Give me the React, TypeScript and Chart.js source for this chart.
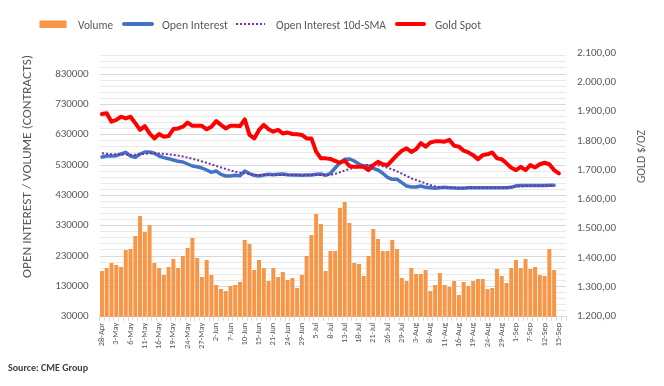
import { useEffect, useRef } from 'react';
import { Chart, registerables } from 'chart.js';

Chart.register(...registerables);

// ---------- data ----------
const DATES = [
  '28-Apr', '29-Apr', '2-May', '3-May', '4-May', '5-May', '6-May', '9-May', '10-May', '11-May',
  '12-May', '13-May', '16-May', '17-May', '18-May', '19-May', '20-May', '23-May', '24-May', '25-May',
  '26-May', '27-May', '31-May', '1-Jun', '2-Jun', '3-Jun', '6-Jun', '7-Jun', '8-Jun', '9-Jun',
  '10-Jun', '13-Jun', '14-Jun', '15-Jun', '16-Jun', '17-Jun', '21-Jun', '22-Jun', '23-Jun', '24-Jun',
  '27-Jun', '28-Jun', '29-Jun', '30-Jun', '1-Jul', '5-Jul', '6-Jul', '7-Jul', '8-Jul', '11-Jul',
  '12-Jul', '13-Jul', '14-Jul', '15-Jul', '18-Jul', '19-Jul', '20-Jul', '21-Jul', '22-Jul', '25-Jul',
  '26-Jul', '27-Jul', '28-Jul', '29-Jul', '1-Aug', '2-Aug', '3-Aug', '4-Aug', '5-Aug', '8-Aug',
  '9-Aug', '10-Aug', '11-Aug', '12-Aug', '15-Aug', '16-Aug', '17-Aug', '18-Aug', '19-Aug', '22-Aug',
  '23-Aug', '24-Aug', '25-Aug', '26-Aug', '29-Aug', '30-Aug', '31-Aug', '1-Sep', '2-Sep', '6-Sep',
  '7-Sep', '8-Sep', '9-Sep', '12-Sep', '13-Sep', '14-Sep', '15-Sep', '16-Sep',
];

const VOLUME = [
  180600, 190600, 207000, 200400, 193900, 250000, 253200, 296000, 362000, 309300,
  332300, 207000, 190600, 167500, 193900, 220300, 190600, 230200, 256500, 289500,
  223600, 160900, 217000, 167500, 134500, 121300, 114700, 131200, 134500, 144400,
  282900, 269700, 184000, 217000, 190600, 147700, 190600, 160900, 177400, 151000,
  157600, 124600, 167500, 230200, 299300, 368600, 335600, 180600, 246600, 246600,
  388400, 408200, 338900, 207000, 203700, 164200, 230200, 319200, 286200, 246600,
  246600, 282900, 253200, 157600, 147700, 190600, 170800, 170800, 184000, 114700,
  134500, 174100, 134500, 127900, 147700, 101500, 144400, 131200, 147700, 154300,
  154300, 121300, 124600, 187300, 164200, 141100, 190600, 217000, 190600, 220300,
  187300, 193900, 167500, 164200, 253200, 184000,
];

const OPEN_INTEREST = [
  556500, 559800, 559800, 560800, 566400, 572000, 559800, 555500, 566400, 573000,
  573000, 568700, 559800, 554300, 551000, 546600, 542200, 540000, 533400, 526800,
  524500, 520200, 513600, 505900, 510300, 499400, 493800, 493800, 496100, 494900,
  510300, 502000, 496100, 493800, 497200, 499400, 498300, 499400, 500500, 498300,
  497200, 497200, 496100, 497200, 497200, 499400, 500500, 496100, 502800, 520200,
  537700, 548900, 550000, 543300, 533400, 526800, 526800, 519100, 513600, 502800,
  489600, 483000, 483000, 471800, 460900, 457600, 457600, 460900, 456500, 455400,
  453200, 455400, 456500, 455400, 454300, 453200, 453200, 455400, 455400, 455400,
  455400, 455400, 455400, 455400, 455400, 455400, 456500, 461400, 462500, 462500,
  462500, 462500, 462500, 462500, 463600, 463600,
];

const OI_SMA_10D = [
  568700, 567000, 565400, 565400, 565400, 564500, 563200, 564000, 565400, 567000,
  568700, 568700, 568000, 567000, 565400, 563000, 561000, 558000, 554400, 550500,
  546600, 542000, 537700, 532000, 526800, 522000, 516900, 512500, 508100, 505000,
  502800, 500000, 497200, 497000, 497000, 497000, 497200, 497200, 497500, 497500,
  497500, 497500, 497500, 497500, 497500, 497200, 497200, 497500, 497500, 501000,
  506000, 512000, 517000, 521500, 525600, 529000, 530000, 530000, 529000, 525600,
  521200, 515700, 509200, 501500, 493800, 486100, 480600, 475100, 469600, 464100,
  459700, 456500, 455400, 455400, 455000, 455000, 455000, 455000, 455000, 455000,
  455000, 455000, 455000, 455000, 455000, 456000, 457600, 459000, 460000, 460500,
  460900, 460900, 461400, 461400, 461400, 461400,
];

const GOLD_SPOT = [
  1891, 1894, 1865, 1871, 1882, 1876, 1882, 1860, 1837, 1850,
  1825, 1808, 1823, 1814, 1816, 1840, 1842, 1848, 1862, 1851,
  1851, 1851, 1839, 1848, 1867, 1854, 1842, 1851, 1851, 1850,
  1873, 1820, 1808, 1837, 1854, 1839, 1831, 1837, 1825, 1828,
  1823, 1822, 1820, 1808, 1808, 1763, 1740, 1740, 1738, 1731,
  1725, 1732, 1714, 1711, 1711, 1711, 1700, 1717, 1728, 1720,
  1717, 1734, 1751, 1766, 1774, 1762, 1771, 1792, 1780, 1794,
  1798, 1798, 1797, 1803, 1783, 1780, 1766, 1760, 1751, 1737,
  1751, 1754, 1760, 1740, 1737, 1723, 1708, 1700, 1711, 1700,
  1717, 1709, 1720, 1725, 1720, 1700, 1689,
];

const LEFT_MIN = 30000;
const LEFT_MAX = 900000;
const LEFT_MAJOR = 100000;
const LEFT_MINOR = 20000;
const RIGHT_MIN = 1200;
const RIGHT_MAX = 2100;
const RIGHT_STEP = 100;
const LABEL_EVERY = 3;
const LAST_LABELLED = 96;

const LEGEND_ITEMS = ['Volume', 'Open Interest', 'Open Interest 10d-SMA', 'Gold Spot'];
const LEFT_TITLE = 'OPEN INTEREST / VOLUME (CONTRACTS)';
const RIGHT_TITLE = 'GOLD $/OZ';
const SOURCE = 'Source: CME Group';

// ---------- styles ----------
const FONT = 'Carlito, Lato, sans-serif';
const TEXT = '#595959';
const ORANGE = '#F79646';
const BLUE = '#4472C4';
const PURPLE = '#7030A0';
const RED = '#FF0000';

const pad = (arr: number[]) => DATES.map((_, i) => (i < arr.length ? arr[i] : null));

function fmtDe(v: number) {
  const [i, d] = v.toFixed(2).split('.');
  return i.replace(/\B(?=(\d{3})+(?!\d))/g, '.') + ',' + d;
}

function fitText(ctx: CanvasRenderingContext2D, text: string, x: number, y: number, w: number) {
  const m = ctx.measureText(text).width;
  ctx.save();
  ctx.translate(x, y);
  ctx.scale(w / m, 1);
  ctx.fillText(text, 0, 0);
  ctx.restore();
}

const decorations = {
  id: 'decorations',
  afterDraw(chart: any) {
    const ctx: CanvasRenderingContext2D = chart.ctx;
    ctx.save();
    // legend
    const ly = 24;
    ctx.fillStyle = ORANGE;
    ctx.fillRect(39.5, 20.5, 27, 7.5);
    ctx.lineCap = 'round';
    ctx.strokeStyle = BLUE;
    ctx.lineWidth = 4;
    ctx.beginPath(); ctx.moveTo(124, ly); ctx.lineTo(152, ly); ctx.stroke();
    ctx.strokeStyle = PURPLE;
    ctx.lineWidth = 2;
    ctx.lineCap = 'butt';
    ctx.setLineDash([2, 2]);
    ctx.beginPath(); ctx.moveTo(236, ly); ctx.lineTo(265, ly); ctx.stroke();
    ctx.setLineDash([]);
    ctx.lineCap = 'round';
    ctx.strokeStyle = RED;
    ctx.lineWidth = 4;
    ctx.beginPath(); ctx.moveTo(397, ly); ctx.lineTo(424, ly); ctx.stroke();

    ctx.fillStyle = TEXT;
    ctx.font = `13px ${FONT}`;
    ctx.textBaseline = 'alphabetic';
    ctx.textAlign = 'left';
    const lx = [78, 162, 276, 435];
    const lw = [35, 66, 110, 46];
    LEGEND_ITEMS.forEach((t, i) => fitText(ctx, t, lx[i], 28.5, lw[i]));

    // axis titles
    ctx.font = `13px ${FONT}`;
    ctx.textAlign = 'center';
    ctx.textBaseline = 'middle';
    ctx.save();
    ctx.translate(28, 166.5);
    ctx.rotate(-Math.PI / 2);
    fitText(ctx, LEFT_TITLE, 0, 0, 223);
    ctx.restore();
    ctx.save();
    ctx.translate(641.5, 156.5);
    ctx.rotate(-Math.PI / 2);
    fitText(ctx, RIGHT_TITLE, 0, 0, 53);
    ctx.restore();

    // source
    ctx.textAlign = 'left';
    ctx.textBaseline = 'alphabetic';
    ctx.fillStyle = '#404040';
    ctx.font = `bold 10px ${FONT}`;
    fitText(ctx, SOURCE, 8, 371, 80);
    ctx.restore();
  },
};

export default function App() {
  const ref = useRef<HTMLCanvasElement>(null);

  useEffect(() => {
    document.body.style.margin = '0';
    const canvas = ref.current!;
    const chart = new Chart(canvas, {
      type: 'bar',
      data: {
        labels: DATES,
        datasets: [
          {
            type: 'line',
            label: 'Gold Spot',
            data: pad(GOLD_SPOT),
            yAxisID: 'y1',
            borderColor: RED,
            borderWidth: 4,
            pointRadius: 0,
            tension: 0,
            borderJoinStyle: 'round',
            borderCapStyle: 'round',
            order: 0,
          } as any,
          {
            type: 'line',
            label: 'Open Interest 10d-SMA',
            data: pad(OI_SMA_10D),
            yAxisID: 'y',
            borderColor: PURPLE,
            borderWidth: 2,
            borderDash: [2, 2],
            pointRadius: 0,
            tension: 0,
            order: 1,
          },
          {
            type: 'line',
            label: 'Open Interest',
            data: pad(OPEN_INTEREST),
            yAxisID: 'y',
            borderColor: BLUE,
            borderWidth: 3.5,
            pointRadius: 0,
            tension: 0,
            borderJoinStyle: 'round',
            borderCapStyle: 'round',
            order: 2,
          },
          {
            type: 'bar',
            label: 'Volume',
            data: pad(VOLUME),
            yAxisID: 'y',
            backgroundColor: ORANGE,
            barPercentage: 0.84,
            categoryPercentage: 1,
            order: 3,
          },
        ],
      },
      options: {
        responsive: false,
        animation: false,
        layout: { padding: { top: 52.8, left: 0, right: 0, bottom: 0 } },
        plugins: { legend: { display: false }, tooltip: { enabled: false } },
        scales: {
          x: {
            offset: true,
            grid: { display: true, drawOnChartArea: false, tickLength: 4, color: '#d9d9d9', offset: true },
            border: { display: true, color: '#d9d9d9' },
            ticks: {
              autoSkip: false,
              minRotation: 90,
              maxRotation: 90,
              padding: 2,
              color: TEXT,
              font: { family: FONT, size: 8.5 },
              callback: (_v: any, i: number) => (i % LABEL_EVERY === 0 && i <= LAST_LABELLED ? DATES[i] : ''),
            },
            afterFit: (s: any) => { s.height = 386 - 316.7; },
          },
          y: {
            position: 'left',
            min: LEFT_MIN,
            max: LEFT_MAX,
            afterBuildTicks: (s: any) => {
              const t = [];
              for (let v = LEFT_MIN; v < LEFT_MAX; v += LEFT_MINOR) t.push({ value: v });
              s.ticks = t;
            },
            grid: {
              drawTicks: false,
              color: (c: any) => (c.tick && (c.tick.value - LEFT_MIN) % LEFT_MAJOR === 0 ? '#d9d9d9' : '#e9e9e9'),
            },
            border: { display: false },
            ticks: {
              autoSkip: false,
              padding: 11,
              color: TEXT,
              font: { family: FONT, size: 11 },
              callback: (v: any) => ((v - LEFT_MIN) % LEFT_MAJOR === 0 ? String(v) : ''),
            },
            afterFit: (s: any) => { s.width = 99.6; },
          },
          y1: {
            position: 'right',
            min: RIGHT_MIN,
            max: RIGHT_MAX,
            grid: { display: false, drawTicks: false },
            border: { display: false },
            ticks: {
              stepSize: RIGHT_STEP,
              padding: 11,
              color: TEXT,
              font: { family: FONT, size: 11 },
              callback: (v: any) => fmtDe(Number(v)),
            },
            afterFit: (s: any) => { s.width = 98; },
          },
        },
      },
      plugins: [decorations],
    });
    return () => chart.destroy();
  }, []);

  return <canvas ref={ref} width={664} height={386} style={{ display: 'block', width: 664, height: 386 }} />;
}
